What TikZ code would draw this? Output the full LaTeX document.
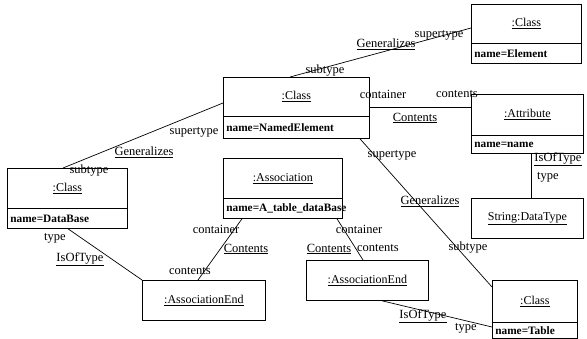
\documentclass[tikz,border=0pt]{standalone}
\usepackage{fontspec}
\setmainfont{Liberation Serif}
\begin{document}
\begin{tikzpicture}[x=1pt,y=-1pt,
  box/.style={draw,line width=0.8pt,inner sep=0pt,anchor=north west,font=\fontsize{12}{14}\selectfont},
  attr/.style={draw,line width=0.8pt,inner xsep=3pt,inner ysep=0pt,anchor=north west,align=left,font=\fontsize{11.3}{13}\selectfont\bfseries},
  conn/.style={line width=0.7pt},
  lbl/.style={inner sep=0pt,font=\fontsize{12.5}{14}\selectfont}]
\useasboundingbox (0,0) rectangle (587,339);
% Element
\node[box,minimum width=110pt,minimum height=39pt] (elH) at (471,4) {\underline{:Class}};
\node[attr,text width=104pt,minimum height=20pt] (elA) at (471,43) {name=Element};
% NamedElement
\node[box,minimum width=146pt,minimum height=39pt] (neH) at (223,77) {\underline{:Class}};
\node[attr,text width=140pt,minimum height=22pt] (neA) at (223,116) {name=NamedElement};
% Attribute
\node[box,minimum width=112pt,minimum height=41pt] (atH) at (471,94) {\underline{:Attribute}};
\node[attr,text width=106pt,minimum height=18pt] (atA) at (471,135) {name=name};
% String DataType
\node[box,minimum width=112pt,minimum height=40pt] (sdt) at (471,198) {\underline{String:DataType}};
% DataBase
\node[box,minimum width=120pt,minimum height=40pt] (dbH) at (7,168) {\underline{:Class}};
\node[attr,text width=114pt,minimum height=20pt] (dbA) at (7,208) {name=DataBase};
% Association
\node[box,minimum width=119pt,minimum height=40pt] (asH) at (223,158) {\underline{:Association}};
\node[attr,text width=113pt,minimum height=20pt] (asA) at (223,198) {name=A\_table\_dataBase};
% AssociationEnds
\node[box,minimum width=123pt,minimum height=40pt] (ae1) at (142,280) {\underline{:AssociationEnd}};
\node[box,minimum width=122pt,minimum height=40pt] (ae2) at (306,260) {\underline{:AssociationEnd}};
% Table
\node[box,minimum width=85pt,minimum height=42pt] (tbH) at (492,280) {\underline{:Class}};
\node[attr,text width=79pt,minimum height=16pt] (tbA) at (492,322) {name=Table};

% connectors
\draw[conn] ([xshift=67pt]neH.north west) -- ([yshift=-24pt]elH.north west);
\draw[conn] ([xshift=56pt]dbH.north west) -- ([yshift=-26pt]neH.north west);
\draw[conn] ([yshift=-30pt]neH.north east) -- ([yshift=-13pt]atH.north west);
\draw[conn] ([xshift=60pt]atA.south west) -- ([xshift=60pt]sdt.north west);
\draw[conn] ([xshift=137pt]neA.south west) -- ([yshift=-7pt]tbH.north west);
\draw[conn] ([xshift=19pt]asA.south west) -- ([xshift=56pt]ae1.north west);
\draw[conn] ([xshift=114pt]asA.south west) -- ([xshift=57pt]ae2.north west);
\draw[conn] ([xshift=61pt]dbA.south west) -- (ae1.north west);
\draw[conn] ([xshift=76pt]ae2.south west) -- ([yshift=-5pt]tbA.north west);

% labels c1
\node[lbl] (l1a) at (386,44) {\underline{Generalizes}};
\node[lbl] (l1b) at (439,35) {supertype};
\node[lbl] (l1c) at (325,71) {subtype};
% c2
\node[lbl] (l2a) at (194,132) {supertype};
\node[lbl] (l2b) at (144,152) {\underline{Generalizes}};
\node[lbl] (l2c) at (89,171) {subtype};
% c3
\node[lbl] (l3a) at (383,94) {container};
\node[lbl] (l3b) at (457,94) {contents};
\node[lbl] (l3c) at (415,118) {\underline{Contents}};
% c4
\node[lbl] (l4a) at (558,159) {\underline{IsOfType}};
\node[lbl] (l4b) at (548,177) {type};
% c5
\node[lbl] (l5a) at (392,155) {supertype};
\node[lbl] (l5b) at (430,201) {\underline{Generalizes}};
\node[lbl] (l5c) at (468,248) {subtype};
% c6
\node[lbl] (l6a) at (216,229) {container};
\node[lbl] (l6b) at (246,249) {\underline{Contents}};
\node[lbl] (l6c) at (190,271) {contents};
% c7
\node[lbl] (l7a) at (359,229) {container};
\node[lbl] (l7b) at (329,249) {\underline{Contents}};
\node[lbl] (l7c) at (378,248) {contents};
% c8
\node[lbl] (l8a) at (55,238) {type};
\node[lbl] (l8b) at (80,259) {\underline{IsOfType}};
% c9
\node[lbl] (l9a) at (423,316) {\underline{IsOfType}};
\node[lbl] (l9b) at (466,328) {type};
\end{tikzpicture}
\end{document}
